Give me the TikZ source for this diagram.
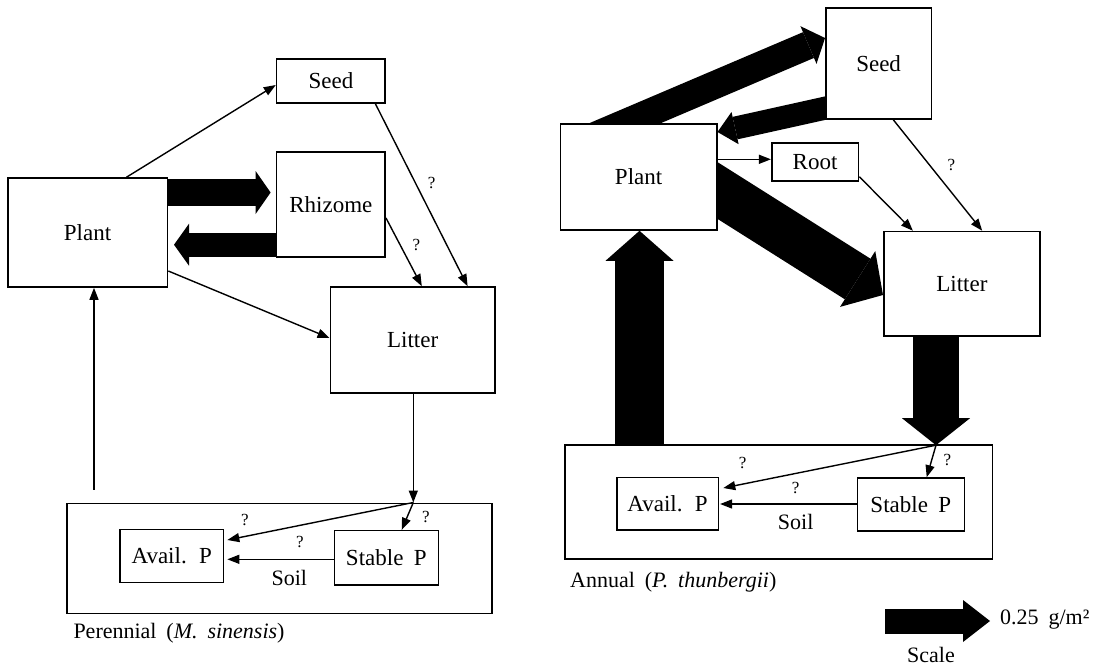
\documentclass[tikz,border=0pt]{standalone}
\usepackage{fontspec}
\setmainfont{Liberation Serif}[WordSpace=1.8]
\usetikzlibrary{arrows.meta,calc}
\pgfdeclarelayer{bottom}
\pgfdeclarelayer{background}
\pgfsetlayers{bottom,background,main}
\begin{document}
\begin{tikzpicture}[x=1pt,y=-1pt,
  box/.style={draw,line width=1.6pt,fill=white,inner sep=0pt,font=\fontsize{23}{26}\selectfont},
  thin/.style={line width=1.4pt,-{Triangle[length=12pt,width=9pt]}},
  fat/.style n args={3}{line width=#1,-{Triangle[width=#2,length=#3,line width=0pt]}},
  q/.style={font=\fontsize{17}{20}\selectfont,inner sep=0pt},
  lbl/.style={font=\fontsize{22}{25}\selectfont,inner sep=0pt},
]
\begin{pgfonlayer}{bottom}
\fill[white] (0,0) rectangle (1102,667);
\end{pgfonlayer}
\useasboundingbox (0,0) rectangle (1102,667);

% ---------------- Perennial ----------------
\node[box,minimum width=108.6pt,minimum height=44pt] (seedL) at (330.9,81) {Seed};
\node[box,minimum width=108.6pt,minimum height=105pt] (rhizome) at (330.9,204.5) {Rhizome};
\node[box,minimum width=159.8pt,minimum height=109pt] (plantL) at (87.6,232.5) {Plant};
\node[box,minimum width=164.5pt,minimum height=106pt] (litterL) at (412.6,340) {Litter};
\node[box,minimum width=425pt,minimum height=110pt] (soilL) at (279.2,558.3) {};
\node[box,minimum width=103.3pt,minimum height=53pt] (availL) at (171.7,555.8) {Avail. P};
\node[box,minimum width=104pt,minimum height=54.3pt] (stableL) at (386.3,557.8) {Stable P};

\begin{pgfonlayer}{background}
\draw[fat={27pt}{43pt}{15pt}] ($(plantL.east)+(-10,-40)$) -- ($(rhizome.west)+(-5.2,-12)$);
\draw[fat={24pt}{42pt}{15pt}] ($(rhizome.west)+(10,40.2)$) -- ($(plantL.east)+(5.7,12.2)$);
\end{pgfonlayer}

\draw[thin] ($(plantL.north)+(38.9,0)$) -- ($(seedL.west)+(0,4)$);
\draw[thin] ($(seedL.south)+(44.5,0)$) -- ($(litterL.north)+(55,0)$);
\draw[thin] ($(rhizome.east)+(0,13.5)$) -- ($(litterL.north)+(9.2,0)$);
\draw[thin] ($(plantL.east)+(0,38.5)$) -- ($(litterL.west)+(0,-2)$);
\coordinate (upL) at ($(soilL.north)+(-185.2,-13)$);
\draw[thin] (upL) -- (upL |- plantL.south);
\coordinate (jL) at ($(soilL.north)+(134.1,0)$);
\draw[thin] (jL |- litterL.south) -- (jL);
\draw[thin] (jL) -- ($(availL.east)+(3.2,-15.8)$);
\draw[thin] (jL) -- ($(stableL.north)+(15.4,0)$);
\draw[thin] ($(stableL.west)+(0,1.5)$) -- ($(availL.east)+(3.2,3.5)$);

\node[q] (qL1) at (431.6,183) {?};
\node[q] (qL2) at (416.5,245) {?};
\node[q] (qL3) at (245,520) {?};
\node[q] (qL4) at (426,516.7) {?};
\node[q] (qL5) at (300,541.7) {?};
\node[lbl] (soiltxtL) at (289.3,578.3) {Soil};
\node[lbl,anchor=west] (titleL) at (73.3,633.3) {Perennial (\textit{M. sinensis})};

% ---------------- Annual ----------------
\node[box,minimum width=105.5pt,minimum height=111pt] (seedR) at (878.6,63.5) {Seed};
\node[box,minimum width=156.2pt,minimum height=106pt] (plantR) at (638.6,177) {Plant};
\node[box,minimum width=86.8pt,minimum height=38pt] (root) at (815.1,162) {Root};
\node[box,minimum width=156.2pt,minimum height=104.5pt] (litterR) at (961.9,283.8) {Litter};
\node[box,minimum width=427.7pt,minimum height=114pt] (soilR) at (778.8,502) {};
\node[box,minimum width=101.6pt,minimum height=52.3pt] (availR) at (667.5,503.8) {Avail. P};
\node[box,minimum width=107pt,minimum height=53pt] (stableR) at (910.8,504.5) {Stable P};

\coordinate (r1s) at ($(plantR.north)+(-13.6,0)$);
\coordinate (r1t) at ($(seedR.west)+(0,-25.5)$);
\coordinate (r2s) at ($(seedR.west)+(0.8,44.5)$);
\coordinate (r2t) at ($(plantR.east)+(0,-45)$);
\coordinate (r3s) at ($(plantR.east)+(-0.8,13)$);
\coordinate (r3t) at ($(litterR.west)+(0,11.2)$);
\coordinate (r4s) at ($(soilR.north)+(-139.3,12)$);
\coordinate (r4t) at ($(plantR.south)+(0.9,0)$);
\coordinate (r5s) at ($(litterR.south)+(-25.9,-10)$);
\coordinate (jR) at ($(soilR.north)+(157.2,1)$);

\begin{pgfonlayer}{background}
\draw[fat={28pt}{41pt}{18pt}] ($(r1s)!-0.15!(r1t)$) -- (r1t);
\draw[fat={23pt}{33pt}{18pt}] ($(r2s)!-0.15!(r2t)$) -- (r2t);
\draw[fat={48pt}{66pt}{30pt}] ($(r3s)!-0.1!(r3t)$) -- (r3t);
\draw[fat={49pt}{68pt}{30pt}] (r4s) -- (r4t);
\draw[fat={46.6pt}{68pt}{27pt}] (r5s) -- (jR);
\end{pgfonlayer}

\draw[thin] ($(plantR.east)+(0,-17.7)$) -- ($(root.west)+(0,-2.7)$);
\draw[thin] ($(root.east)+(0,14.7)$) -- ($(litterR.north)+(-49,0)$);
\draw[thin] ($(seedR.south)+(14.7,0)$) -- ($(litterR.north)+(20.3,0)$);
\draw[thin] (jR) -- ($(availR.east)+(4.2,-15.8)$);
\draw[thin] (jR) -- ($(stableR.north)+(15.9,0)$);
\draw[thin] ($(stableR.west)+(0,-0.5)$) -- ($(availR.east)+(1,0.2)$);

\node[q] (qR1) at (951.4,165) {?};
\node[q] (qR2) at (742.7,463) {?};
\node[q] (qR3) at (947.3,460) {?};
\node[q] (qR4) at (795.7,488) {?};
\node[lbl] (soiltxtR) at (795.7,521.7) {Soil};
\node[lbl,anchor=west] (titleR) at (570,581.7) {Annual (\textit{P. thunbergii})};

% ---------------- Scale ----------------
\coordinate (scA) at (885,621);
\coordinate (scB) at (990,621);
\draw[fat={25pt}{42pt}{27pt}] (scA) -- (scB);
\node[lbl,anchor=west] (scaleval) at (1000,620) {0.25 g/m²};
\node[lbl] (scaletxt) at (931,655) {Scale};
\end{tikzpicture}
\end{document}
